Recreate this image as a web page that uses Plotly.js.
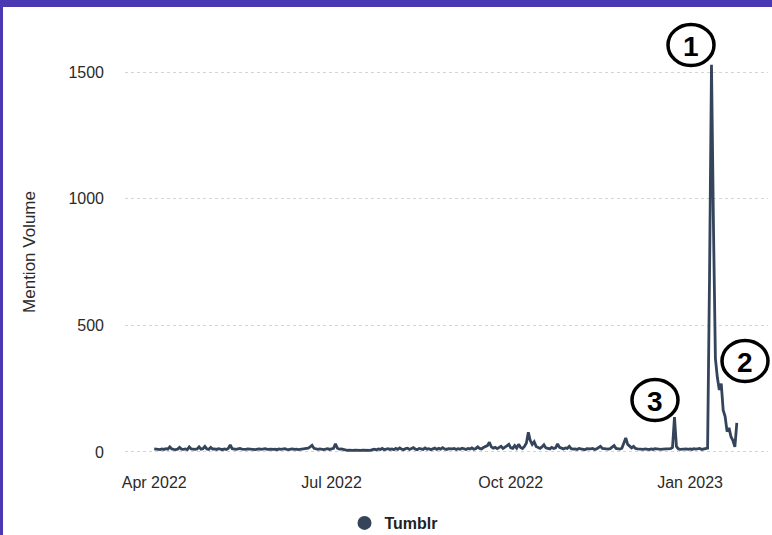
<!DOCTYPE html>
<html>
<head>
<meta charset="utf-8">
<script src="https://cdn.plot.ly/plotly-3.0.1.min.js"></script>
<style>
  html, body { margin: 0; padding: 0; background: #ffffff; }
  #wrap { position: relative; width: 772px; height: 535px; overflow: hidden; }
  #chart { position: absolute; left: 0; top: 0; width: 772px; height: 535px; }
  .bar-top { position: absolute; left: 0; top: 0; width: 772px; height: 7px; background: #4b39b4; z-index: 5; }
  .bar-left { position: absolute; left: 0; top: 0; width: 3px; height: 535px; background: #4b39b4; z-index: 5; }
</style>
</head>
<body>
<div id="wrap">
  <div id="chart"></div>
  <div class="bar-top"></div>
  <div class="bar-left"></div>
</div>
<script>
// Daily mention volume for Tumblr, 1 Apr 2022 – 25 Jan 2023
const startDate = '2022-04-01';
const apr = [12,10,11,9,12,10,13,11,20,12, 10,9,11,18,11,10,12,9,20,12, 11,10,12,20,11,13,22,12,10,18];
const may = [11,12,10,13,11,9,12,10,14,28, 13,11,10,12,14,11,9,10,12,11, 13,10,9,11,12,10,11,13,10,12, 11];
const jun = [10,11,9,12,10,11,13,10,9,11, 12,10,11,9,10,12,11,13,15,20, 26,14,11,10,12,10,9,11,13,10];
const jul = [12,14,32,15,11,12,10,7,6,7, 5,6,7,6,5,6,7,6,5,7, 6,9,11,8,12,10,14,9,11,13, 10];
const aug = [12,9,14,10,16,11,9,13,15,10, 12,17,11,9,14,12,10,16,11,13, 9,12,15,10,14,11,17,12,10,13, 11];
const sep = [12,14,10,13,11,15,12,10,14,12, 16,11,13,20,14,12,18,22,25,38, 20,15,18,13,16,22,14,18,24,30];
const oct = [16,14,25,15,30,18,14,22,35,78, 45,30,40,22,18,14,20,28,16,14, 12,18,14,16,32,18,14,12,16,14, 22];
const nov = [13,11,12,10,14,12,11,9,13,11, 12,14,10,12,16,22,14,12,10,11, 13,18,25,14,12,11,15,40,55,30];
const dec = [22,16,22,14,12,11,13,10,12,11, 9,12,10,13,11,12,10,11,12,14, 12,13,18,138,22,12,10,11,13,12, 10];
const jan = [12,10,13,11,12,14,10,12,11,15, 700,1530,900,370,295,245,270,165,140,80, 95,60,45,20,115];

const seriesName = 'Tumblr';
const tickVals = ['2022-04-01', '2022-07-01', '2022-10-01', '2023-01-01'];
const tickText = ['Apr 2022', 'Jul 2022', 'Oct 2022', 'Jan 2023'];
const yTicks = [0, 500, 1000, 1500];
const calloutLabels = ['1', '2', '3'];

const values = [].concat(apr, may, jun, jul, aug, sep, oct, nov, dec, jan);
const dates = values.map((_, i) => {
  const d = new Date(startDate + 'T00:00:00Z');
  d.setUTCDate(d.getUTCDate() + i);
  return d.toISOString().slice(0, 10);
});

const lineColor = '#34445a';
const W = 772, H = 535;
const M = { l: 125, r: 4, t: 47, b: 78 };
const PW = W - M.l - M.r, PH = H - M.t - M.b;
const px = x => (x - M.l) / PW;
const py = y => (H - M.b - y) / PH;

// callout circles (pixel centres)
const callouts = [
  { cx: 691, cy: 45 },
  { cx: 745, cy: 361 },
  { cx: 655, cy: 400 }
];
const rx = 23, ry = 20.5;
const shapes = callouts.map(c => ({
  type: 'circle', xref: 'paper', yref: 'paper',
  x0: px(c.cx - rx), x1: px(c.cx + rx), y0: py(c.cy + ry), y1: py(c.cy - ry),
  line: { color: '#000000', width: 3.5 }, fillcolor: 'rgba(255,255,255,0)'
}));
const annotations = callouts.map((c, i) => ({
  xref: 'paper', yref: 'paper', x: px(c.cx), y: py(c.cy + 1),
  xanchor: 'center', yanchor: 'middle', showarrow: false,
  text: '<b>' + calloutLabels[i] + '</b>',
  font: { family: 'Liberation Sans, Arial, sans-serif', size: 28, color: '#000000' }
}));

const traces = [
  {
    x: dates, y: values, type: 'scatter', mode: 'lines',
    line: { color: lineColor, width: 2.8 }, showlegend: false, hoverinfo: 'x+y'
  },
  {
    x: [null], y: [null], type: 'scatter', mode: 'markers', name: seriesName,
    marker: { color: lineColor, size: 14 }, showlegend: true
  }
];

const layout = {
  width: W, height: H,
  margin: M,
  paper_bgcolor: '#ffffff', plot_bgcolor: '#ffffff',
  font: { family: 'Liberation Sans, Arial, sans-serif', color: '#333333' },
  xaxis: {
    type: 'date',
    range: ['2022-03-17', '2023-02-10'],
    tickvals: tickVals, ticktext: tickText,
    showgrid: false, zeroline: false, showline: false, ticks: '',
    ticklabelstandoff: 14, automargin: false,
    tickfont: { size: 16, color: '#2a2a2a' }
  },
  yaxis: {
    range: [-20, 1600],
    tickvals: yTicks,
    showgrid: true, gridcolor: '#d4d4d4', griddash: 'dot', gridwidth: 1,
    zeroline: false, showline: false, ticks: '',
    ticklabelstandoff: 20, automargin: false,
    tickfont: { size: 16, color: '#2a2a2a' },
    title: { text: 'Mention Volume', font: { size: 17, color: '#2a2a2a' }, standoff: 28 }
  },
  showlegend: true,
  legend: {
    orientation: 'h', x: px(394), xanchor: 'center',
    yref: 'container', y: (H - 523) / H, yanchor: 'middle',
    font: { size: 16, color: '#222222', weight: 'bold' },
    itemwidth: 30
  },
  shapes: shapes,
  annotations: annotations
};

Plotly.newPlot('chart', traces, layout, { displayModeBar: false, staticPlot: true });
</script>
</body>
</html>
